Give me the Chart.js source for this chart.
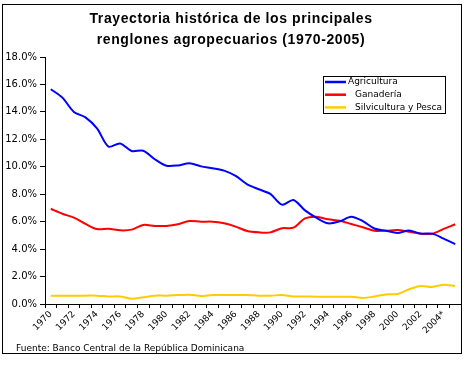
<!DOCTYPE html>
<html>
<head>
<meta charset="utf-8">
<script src="https://cdn.jsdelivr.net/npm/chart.js@4"></script>
<style>
  html, body { margin: 0; padding: 0; background: #fff; }
  #wrap { width: 469px; height: 367px; }
</style>
</head>
<body>
<div id="wrap"><canvas id="lineChart" width="469" height="367"></canvas></div>
<script>
// Participación de los renglones agropecuarios (% del PIB), 1970-2005
const years = ['1970', '1971', '1972', '1973', '1974', '1975', '1976', '1977', '1978', '1979',
  '1980', '1981', '1982', '1983', '1984', '1985', '1986', '1987', '1988', '1989',
  '1990', '1991', '1992', '1993', '1994', '1995', '1996', '1997', '1998', '1999',
  '2000', '2001', '2002', '2003', '2004*', '2005*'];

const agricultura = [15.65, 15.04, 14.0, 13.6, 12.8, 11.47, 11.7, 11.15, 11.17, 10.55,
  10.08, 10.1, 10.25, 10.03, 9.89, 9.72, 9.33, 8.72, 8.36, 8.02,
  7.24, 7.58, 6.82, 6.28, 5.88, 6.02, 6.36, 6.04, 5.5, 5.34,
  5.18, 5.36, 5.13, 5.13, 4.76, 4.36];

const ganaderia = [6.94, 6.58, 6.29, 5.84, 5.46, 5.49, 5.37, 5.42, 5.76, 5.69,
  5.69, 5.81, 6.05, 6.0, 6.0, 5.88, 5.64, 5.32, 5.22, 5.22,
  5.52, 5.56, 6.24, 6.36, 6.17, 6.07, 5.83, 5.59, 5.34, 5.34,
  5.39, 5.27, 5.12, 5.12, 5.47, 5.81];

const silvicultura = [0.61, 0.61, 0.61, 0.61, 0.61, 0.55, 0.55, 0.38, 0.49, 0.61,
  0.61, 0.65, 0.68, 0.58, 0.66, 0.66, 0.66, 0.66, 0.6, 0.6,
  0.66, 0.55, 0.55, 0.53, 0.53, 0.53, 0.53, 0.44, 0.55, 0.7,
  0.73, 1.07, 1.31, 1.24, 1.41, 1.31];

const seriesNames = ['Agricultura', 'Ganadería', 'Silvicultura y Pesca'];
const titleLines = ['Trayectoria histórica de los principales', 'renglones agropecuarios (1970-2005)'];
const fuente = 'Fuente: Banco Central de la República Dominicana';

const smallFont = 'DejaVu Sans, Verdana, sans-serif';

// frame, spaced-out title and source line (the Excel look)
const framePlugin = {
  id: 'frame',
  afterDraw(chart) {
    const ctx = chart.ctx;
    ctx.save();
    ctx.strokeStyle = '#000';
    ctx.lineWidth = 1;
    ctx.strokeRect(2.5, 4.5, 459, 349);

    ctx.fillStyle = '#000';
    ctx.textAlign = 'center';
    ctx.textBaseline = 'middle';
    ctx.font = 'bold 14px Liberation Sans, Arial, sans-serif';
    if ('letterSpacing' in ctx) ctx.letterSpacing = '0.6px';
    ctx.fillText(titleLines[0], 231, 19);
    ctx.fillText(titleLines[1], 231, 40);
    if ('letterSpacing' in ctx) ctx.letterSpacing = '0px';

    ctx.textAlign = 'left';
    ctx.font = '9px ' + smallFont;
    ctx.fillText(fuente, 16, 349);
    ctx.restore();
  }
};

// boxed legend inside the plot, like the original
const boxLegend = {
  id: 'boxLegend',
  afterDraw(chart) {
    const ctx = chart.ctx;
    const x = 323, y = 76, w = 122, h = 37;
    const indent = [0, 7, 7];
    ctx.save();
    ctx.fillStyle = '#fff';
    ctx.fillRect(x, y, w, h);
    ctx.strokeStyle = '#000';
    ctx.lineWidth = 1;
    ctx.strokeRect(x + 0.5, y + 0.5, w, h);
    ctx.font = '9px ' + smallFont;
    ctx.textBaseline = 'middle';
    chart.data.datasets.forEach((ds, i) => {
      const ly = y + 6 + i * 12.7;
      ctx.strokeStyle = ds.borderColor;
      ctx.lineWidth = 2.5;
      ctx.beginPath();
      ctx.moveTo(x + 2, ly);
      ctx.lineTo(x + 23, ly);
      ctx.stroke();
      ctx.fillStyle = '#000';
      ctx.fillText(ds.label, x + 25 + indent[i], ly);
    });
    ctx.restore();
  }
};

function drawChart() {
  new Chart(
    document.getElementById('lineChart'),
    {
      type: 'line',
      data: {
        labels: years,
        datasets: [
          { label: seriesNames[0], data: agricultura, borderColor: '#0000FF' },
          { label: seriesNames[1], data: ganaderia, borderColor: '#FF0000' },
          { label: seriesNames[2], data: silvicultura, borderColor: '#FFCC00' }
        ]
      },
      options: {
        responsive: false,
        animation: false,
        events: [],
        layout: { padding: { left: 0, right: 8, top: 57, bottom: 0 } },
        elements: {
          point: { radius: 0 },
          line: { borderWidth: 2, tension: 0.3 }
        },
        plugins: {
          legend: { display: false },
          tooltip: { enabled: false },
          title: { display: false }
        },
        scales: {
          x: {
            offset: true,
            grid: { offset: true, drawOnChartArea: false, tickLength: 4, color: '#000' },
            border: { color: '#000', width: 1 },
            ticks: {
              autoSkip: false,
              minRotation: 45,
              maxRotation: 45,
              color: '#000',
              padding: 1,
              font: { family: smallFont, size: 9 },
              callback: function (value, index) {
                return index % 2 === 0 ? this.getLabelForValue(value) : '';
              }
            },
            afterFit: scale => { scale.height = 63; }
          },
          y: {
            min: 0,
            max: 18,
            grid: { drawOnChartArea: false, tickLength: 5, color: '#000' },
            border: { color: '#000', width: 1 },
            ticks: {
              stepSize: 2,
              color: '#000',
              padding: 3,
              font: { family: smallFont, size: 10 },
              callback: v => v.toFixed(1) + '%'
            },
            afterFit: scale => { scale.width = 45; }
          }
        }
      },
      plugins: [framePlugin, boxLegend]
    }
  );
}

drawChart();
</script>
</body>
</html>
